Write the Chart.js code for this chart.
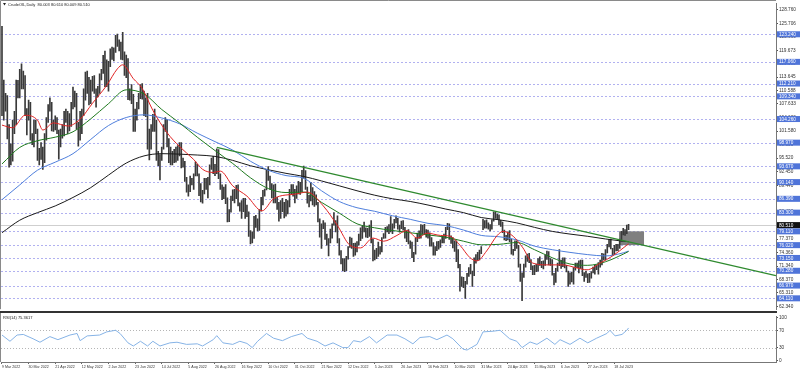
<!DOCTYPE html>
<html>
<head>
<meta charset="utf-8">
<script src="https://cdn.jsdelivr.net/npm/chart.js@4.4.0/dist/chart.umd.min.js"></script>
<style>
  html, body { margin: 0; padding: 0; background: #fff; }
  #wrap { position: relative; width: 800px; height: 372px; overflow: hidden; }
  canvas { position: absolute; left: 0; }
  #main { top: 0; }
  #rsi { top: 313px; }
</style>
</head>
<body>
<div id="wrap">
  <canvas id="main" width="800" height="313"></canvas>
  <canvas id="rsi" width="800" height="59"></canvas>
</div>
<script>
// ---- data ----
const dateLabels = ["9 Mar 2022", "30 Mar 2022", "21 Apr 2022", "12 May 2022", "2 Jun 2022", "23 Jun 2022",
  "14 Jul 2022", "5 Aug 2022", "26 Aug 2022", "16 Sep 2022", "10 Oct 2022", "31 Oct 2022", "21 Nov 2022",
  "12 Dec 2022", "5 Jan 2023", "26 Jan 2023", "16 Feb 2023", "10 Mar 2023", "31 Mar 2023", "24 Apr 2023",
  "15 May 2023", "6 Jun 2023", "27 Jun 2023", "18 Jul 2023"];
const labelStep = 15; // bars between date labels

// daily lows / highs, one per bar
const lows = [
  105, 104, 106, 99.8, 93.5, 94, 94.8, 101, 103, 109,
  109, 111, 111, 105, 100.7, 104, 99.5, 98.5, 98, 101,
  95, 94, 95.2, 93, 94.5, 99.5, 103.5, 106, 101.6, 101.5,
  101.8, 101, 95.3, 98, 100, 100.5, 103.5, 101, 101.6, 102.6,
  106.5, 107, 102, 98.2, 99.5, 101, 105, 108.5, 110, 107.4,
  107.7, 110.5, 110, 106.9, 109.2, 110, 113, 114.5, 111.5, 111.5,
  110.5, 116, 117.6, 117.3, 119.2, 120.5, 119.5, 117.6, 117.5, 114,
  113.5, 108.6, 108.5, 107.7, 101.5, 101.5, 104, 106.5, 108.8, 108.7,
  105, 104.8, 97.5, 95.1, 97.5, 101.5, 101.5, 95, 93.8, 90.6,
  95, 97.5, 101.5, 98, 94.5, 94, 94, 94.5, 94.6, 95,
  96, 93.3, 93.5, 90.3, 87.9, 87, 88, 89.5, 88.5, 91.5,
  91.5, 87.1, 85.7, 85.4, 87.5, 88.5, 86.6, 89.5, 93, 92,
  91.6, 92, 90.9, 88.5, 86.2, 86.4, 85.3, 81.2, 81.3, 83.4,
  86, 85.5, 86.4, 84.8, 83.6, 82, 83.5, 82, 82.4, 78,
  76.3, 76.5, 77.5, 80, 79.2, 79.3, 83.6, 85, 87, 88.4,
  90.5, 88.5, 86.6, 85.5, 85.5, 84, 81.4, 82, 83.5, 82.1,
  82.5, 83, 84.6, 87.5, 87, 85.5, 86.5, 87.5, 87.4, 88,
  91, 88.5, 85.4, 84.6, 85.9, 85, 84.7, 85, 81.2, 77.8,
  75.3, 79.7, 77.3, 76, 73.6, 76.5, 77.6, 80.5, 79, 76.5,
  73.8, 71.8, 70.3, 70.1, 70.3, 72.9, 75.5, 75.3, 73.5, 73.8,
  74.5, 76, 77, 77.5, 79, 77.8, 77.7, 78, 76.5, 72.5,
  72.7, 73, 73.5, 74, 74.5, 77.5, 77.6, 79, 78.6, 79,
  78.6, 79.8, 81, 79.6, 78.9, 79.7, 79.4, 77.6, 76.8, 76.3,
  75.3, 73.2, 72.3, 74, 76.8, 77.5, 77.6, 78.5, 78.5, 77.8,
  77.6, 75.8, 75.8, 73.8, 73.8, 74.8, 75.1, 75.5, 76.5, 76.5,
  77.5, 79.5, 77.3, 76.4, 75.4, 74.6, 72.3, 70.9, 65.7, 66.8,
  66.5, 64.1, 67.3, 69, 69.6, 66.8, 69.2, 72, 72.6, 72.7,
  74.1, 79.5, 79.8, 79.8, 79.6, 79.2, 79.6, 81.4, 82, 81.8,
  80.6, 80.2, 78.8, 77.2, 77, 77.2, 76.8, 74, 73.8, 74.8,
  75.3, 71.1, 67.9, 63.6, 68.8, 71.1, 72.4, 72.1, 70.5, 69.4,
  69.4, 70.1, 70.2, 71.5, 71, 70.7, 71.5, 72.8, 71.6, 71.5,
  69.3, 67.1, 67.7, 70.2, 71.4, 70.8, 71.2, 70.9, 70, 66.8,
  67.3, 67.8, 67.3, 70.4, 71, 69.8, 70.8, 69.2, 67.9, 68.8,
  67.6, 67.7, 68.6, 69.8, 69.5, 70.5, 69.5, 71.1, 71.6, 72.7,
  72.7, 74.3, 75.6, 75.2, 73.8, 73.9, 74.7, 74.8, 75.3, 76.9,
  78.3, 78.2, 78.6, 79.5
];
const highs = [
  125, 113, 110, 109.5, 103, 98.7, 104, 106, 113, 112.9,
  115.4, 116.6, 115, 114, 106.6, 108.5, 108, 101, 104, 104,
  102, 97.7, 99, 98, 101, 104.6, 107.5, 109, 108, 104,
  105, 104.6, 101.8, 102, 103, 106, 106.5, 106, 105.5, 108,
  111.4, 110.5, 110, 103.5, 106, 106.5, 111, 114.8, 115, 113.6,
  113, 113.8, 114, 111, 111.6, 114.4, 115.4, 118.5, 119.5, 117.5,
  117.2, 120, 120.4, 120.2, 123, 123.3, 122, 121.5, 123.7, 119.3,
  118.6, 117.8, 111, 112, 109.8, 106.5, 108, 110, 112, 112.2,
  110.5, 109, 110, 102, 103, 105.3, 106.5, 104, 97, 96.3,
  98, 103, 104.6, 104.2, 99.9, 98, 97, 97.5, 98, 98.3,
  99, 99, 95.5, 94.8, 91.2, 89.5, 91.5, 91, 92, 94.7,
  94.1, 92, 89.8, 88.3, 91, 91, 91.2, 94, 95.5, 95.9,
  94.1, 97.6, 97.4, 92, 89.5, 89, 89.6, 86.6, 84, 87,
  88.4, 88.5, 89.4, 89.5, 85.5, 86, 86.5, 86.5, 85, 83.5,
  79.3, 79, 82.5, 82.7, 81.9, 84, 86.7, 88.3, 88.6, 93,
  93.6, 91.5, 89.8, 89.5, 89.7, 86.7, 85.6, 86, 86.5, 85.6,
  86.3, 86, 88.5, 89.6, 89.6, 88.5, 89.3, 90.3, 90.1, 92.8,
  93.7, 92.7, 89, 87.2, 90.1, 88.9, 88, 87.3, 85.6, 81.9,
  80.8, 81.5, 81, 78.5, 77.5, 79.6, 80.8, 83.3, 81.5, 82.6,
  77.5, 74.8, 73, 73, 73.5, 75.7, 77.8, 77.6, 76.4, 76.5,
  76.8, 78.5, 79.9, 80.3, 81.2, 79.9, 79.8, 80.5, 81.5, 77.4,
  74.9, 75.3, 76.7, 75.7, 77.7, 78.6, 80, 80.2, 80.6, 82.4,
  80.8, 81.8, 82.6, 82, 80.5, 81.4, 81.5, 80, 79.2, 79.5,
  77, 76.7, 74.4, 77.6, 78.7, 79.2, 80.6, 80.5, 80.7, 79.5,
  79.4, 78.8, 77.7, 76.6, 75.7, 76.8, 76.9, 77.2, 78, 78.5,
  80, 80.9, 80.8, 78.1, 77.7, 77, 77, 75, 71.7, 68.9,
  68.8, 67.9, 69.7, 71, 71.7, 70.2, 73.2, 73.9, 74.4, 74.9,
  75.7, 81.8, 81.5, 81.7, 81, 80.6, 81.7, 83.5, 83.5, 83,
  82.8, 81.6, 81.2, 79.4, 78.2, 79, 79.3, 77.4, 75.1, 77,
  77, 76, 71.8, 69.8, 71.8, 73.6, 74, 74.2, 72.8, 71.4,
  71.5, 71.8, 73, 73.4, 72.4, 72.5, 73.8, 74.7, 74.6, 73,
  72.8, 69.7, 70.8, 72, 75, 72.7, 73.2, 73.2, 71.5, 70.2,
  69.8, 70, 71, 72, 72, 72.5, 72.7, 72.7, 69.9, 70.2,
  69.6, 69.7, 70.1, 71.1, 71.5, 71.6, 72.1, 72.7, 74.2, 74.1,
  75, 76.2, 77.3, 77.4, 75.3, 76, 76.2, 76.2, 77.4, 79.1,
  79.8, 79.5, 80.5, 80.7
];

// moving averages (bar index -> value)
const fastIdx = [0, 6, 13, 20, 23, 29, 37, 44, 51, 59, 65, 68, 74, 79, 85, 93, 100, 108, 113, 119, 123, 130,
  138, 146.5, 153, 166, 172, 181, 189, 196, 202, 209, 215, 222.5, 228, 234, 239.5, 247, 252.5, 258, 263.7,
  267.6, 273, 279, 282.3, 288, 293.5, 299, 307, 316, 324, 329.6, 337, 344, 352, 353];
const fastMa = [102.9, 102.3, 105.1, 104.0, 101.8, 103.4, 102.7, 104.2, 107.8, 111.8, 115.5, 116.4, 113.3, 111.1,
  106.2, 101.2, 98.1, 95.2, 93.0, 92.3, 92.6, 89.3, 87.0, 83.7, 86.4, 87.5, 87.9, 84.8, 80.4, 76.0, 75.4, 77.6,
  76.9, 78.2, 79.3, 77.6, 78.7, 78.2, 78.0, 76.0, 73.2, 72.5, 74.7, 78.2, 79.1, 78.0, 75.4, 72.0, 71.6, 71.6,
  70.9, 70.5, 72.0, 73.6, 76.0, 76.3];
const maIdx = [0, 10, 20, 30, 40, 50, 60, 70, 80, 90, 100, 110, 120, 130, 140, 150, 160, 170, 180, 190, 200,
  210, 220, 230, 240, 250, 260, 270, 280, 290, 300, 310, 320, 330, 340, 350, 353];
const midMa = [94.2, 97.9, 99.4, 100.2, 101.4, 104.3, 107.7, 110.8, 109.9, 106.4, 103.4, 100.2, 97.2, 94.3, 91.1,
  88.7, 87.8, 87.9, 85.6, 83.2, 80.8, 79.9, 79.3, 78.8, 78.3, 77.8, 76.9, 76.1, 76.2, 76.6, 75.0, 73.2, 71.8,
  71.5, 72.3, 74.0, 74.6];
const slowMa = [86.2, 89.5, 92.8, 94.6, 96.5, 99.7, 102.8, 104.6, 105.2, 104.5, 103.2, 101.1, 99.2, 97.3, 94.8,
  92.8, 91.6, 91.0, 88.2, 85.8, 84.4, 83.6, 82.6, 81.8, 80.9, 80.4, 79.4, 78.2, 77.9, 77.2, 75.8, 75.0, 74.4,
  73.9, 73.6, 74.3, 74.7];
const longMa = [78.8, 81.6, 83.3, 84.8, 86.7, 88.9, 91.7, 94.4, 96.0, 96.5, 96.4, 96.2, 95.9, 95.0, 93.8, 92.9,
  92.1, 91.4, 90.4, 89.3, 88.2, 87.2, 86.4, 85.8, 85.0, 84.1, 83.3, 82.2, 81.7, 81.0, 80.0, 79.1, 78.5, 78.0,
  77.4, 76.9, 76.8];

// trend line and box
const trendIdx = [121, 436];
const trendVal = [97.9, 69.2];
const boxIdx = [347.6, 361.7];
const boxVal = [76.02, 79.11];

// horizontal levels (blue dotted) and price labels
const levels = [123.24, 117.06, 112.21, 109.34, 104.26, 98.97, 93.67, 90.14, 86.39, 83.30, 79.11, 76.02,
  73.15, 70.28, 66.97, 64.11];
const lastPrice = 80.51;
const priceTicks = [128.760, 125.706, 122.690, 119.673, 116.660, 113.645, 110.588, 107.633, 104.600, 101.580,
  98.550, 95.520, 92.450, 89.440, 86.420, 83.400, 80.380, 77.370, 74.360, 71.340, 68.370, 65.310, 62.340];

// RSI(14)
const rsiIdx = [0, 4.5, 8.5, 12, 17.5, 21.4, 27, 31.5, 38.3, 42.3, 44, 48, 55, 59, 64, 66.5, 71, 74, 78, 82, 85,
  89, 94.6, 98.6, 104, 110, 113, 119, 121, 124.5, 130, 134, 138, 141, 144, 149, 153, 158, 163, 169, 172, 177.5,
  182, 186.5, 192, 195, 198, 202, 207, 211, 217, 222.5, 227, 231.5, 235.5, 241, 245, 250.7, 254, 259.7, 262,
  267.6, 271, 276.6, 280.6, 286, 290, 293, 297.5, 301.4, 307, 311.5, 314.4, 320, 325.6, 330, 335, 340.8, 342.5,
  345.4, 349.3, 352, 353];
const rsiVal = [59, 44.6, 59, 60.4, 50.4, 42.4, 55.4, 48.3, 59, 62.6, 46, 57, 59, 66.3, 70, 62.6, 40.9, 33.7,
  44.6, 33.7, 44.6, 33.7, 40.9, 42.4, 37.4, 38.7, 33.7, 48.3, 57.6, 40.9, 37.4, 44.6, 39.6, 30, 44.6, 62.6,
  51.7, 46, 55.4, 62.6, 51.7, 44.6, 33.7, 40.9, 30, 30, 46, 43, 55.4, 40.9, 59, 59, 50.4, 38.7, 53.3, 55.4,
  48.3, 59, 50.4, 26.5, 24.3, 37.4, 66.3, 67.8, 70, 50.4, 44.6, 30, 43, 37.4, 51.7, 37.4, 48.3, 37.4, 51.7,
  40.9, 51.7, 62.6, 70, 57, 60.4, 70, 75.4];
const rsiTicks = [0, 30, 70, 100];
const rsiLevels = [30, 70];

// axis ranges
const X_MIN = -0.56, X_MAX = 436.06;
const P_MIN = 61.68, P_MAX = 130.06;
const R_MIN = -3.3, R_MAX = 101.1;

Chart.defaults.font.family = "'Liberation Sans', Arial, sans-serif";
const AXIS_W = 24;

const pts = (xs, ys) => xs.map((x, i) => ({ x: x, y: ys[i] }));
const maLine = (xs, ys, color) => ({
  type: 'line', data: pts(xs, ys), borderColor: color, borderWidth: 1,
  pointRadius: 0, cubicInterpolationMode: 'monotone', order: 2
});

const mainDecor = {
  id: 'mainDecor',
  beforeDatasetsDraw(chart) {
    const { ctx, chartArea: a, scales: { x, y } } = chart;
    ctx.save();
    ctx.beginPath();
    ctx.rect(a.left, a.top, a.right - a.left, a.bottom - a.top);
    ctx.clip();
    ctx.lineWidth = 1;
    ctx.strokeStyle = 'rgba(100,100,225,0.5)';
    ctx.setLineDash([2, 2]);
    levels.forEach(v => {
      const py = Math.round(y.getPixelForValue(v)) + 0.5;
      ctx.beginPath(); ctx.moveTo(a.left, py); ctx.lineTo(a.right, py); ctx.stroke();
    });
    ctx.setLineDash([]);
    ctx.strokeStyle = '#cfcfcf';
    const by = Math.round(y.getPixelForValue(lastPrice)) + 0.5;
    ctx.beginPath(); ctx.moveTo(a.left, by); ctx.lineTo(a.right, by); ctx.stroke();
    const x0 = x.getPixelForValue(boxIdx[0]), x1 = x.getPixelForValue(boxIdx[1]);
    const y0 = y.getPixelForValue(boxVal[1]), y1 = y.getPixelForValue(boxVal[0]);
    ctx.fillStyle = '#7f7f7f';
    ctx.fillRect(x0, y0, x1 - x0, y1 - y0);
    ctx.restore();
  },
  afterDraw(chart) {
    const { ctx, chartArea: a, scales: { y } } = chart;
    ctx.save();
    // frame + panel separator
    ctx.strokeStyle = '#8a8a8a';
    ctx.lineWidth = 1;
    ctx.beginPath();
    ctx.moveTo(0.5, a.bottom); ctx.lineTo(0.5, 0.5); ctx.lineTo(a.right, 0.5);
    ctx.stroke();
    ctx.fillStyle = '#333';
    ctx.fillRect(0, 311, a.right + 1, 2);
    // price boxes on the axis
    ctx.font = "4.7px 'Liberation Sans', Arial";
    ctx.textBaseline = 'middle';
    const tag = (v, bg) => {
      const py = y.getPixelForValue(v);
      ctx.fillStyle = bg;
      ctx.fillRect(a.right + 1, py - 3, 800 - a.right - 1, 6);
      ctx.fillStyle = '#fff';
      ctx.fillText(v.toFixed(3), a.right + 3, py + 0.3);
    };
    levels.forEach(v => tag(v, '#4f74d9'));
    tag(lastPrice, '#111');
    // title
    ctx.fillStyle = '#222';
    ctx.beginPath(); ctx.moveTo(3, 3); ctx.lineTo(6, 3); ctx.lineTo(4.5, 5.5); ctx.closePath(); ctx.fill();
    ctx.font = "4px 'Liberation Sans', Arial";
    ctx.fillText('CrudeOIL,Daily  80.003 80.610 80.009 80.510', 8, 4.5);
    ctx.restore();
  }
};

new Chart(document.getElementById('main'), {
  type: 'bar',
  data: {
    datasets: [
      { type: 'line', data: pts(trendIdx, trendVal), borderColor: '#2f8a2f', borderWidth: 1.3, pointRadius: 0, order: 1 },
      maLine(fastIdx, fastMa, '#e02525'),
      maLine(maIdx, midMa, '#1f7a1f'),
      maLine(maIdx, slowMa, '#4f7fdc'),
      maLine(maIdx, longMa, '#1a1a1a'),
      {
        type: 'bar', data: lows.map((l, i) => ({ x: i, y: [l, highs[i]] })),
        backgroundColor: '#3a3a3a', barThickness: 1, grouped: false, order: 10
      }
    ]
  },
  options: {
    responsive: false, animation: false, events: [],
    layout: { padding: { left: 1, top: 2, right: 0, bottom: 1 } },
    plugins: { legend: { display: false }, tooltip: { enabled: false } },
    scales: {
      x: { type: 'linear', min: X_MIN, max: X_MAX, display: false, offset: false },
      y: {
        position: 'right', min: P_MIN, max: P_MAX,
        afterFit: s => { s.width = AXIS_W; },
        afterBuildTicks: s => { s.ticks = priceTicks.map(v => ({ value: v })); },
        ticks: { autoSkip: false, padding: 1, color: '#333', font: { size: 4.7 }, callback: v => v.toFixed(3) },
        grid: { drawOnChartArea: false, tickLength: 2, color: '#555' },
        border: { color: '#777' }
      }
    }
  },
  plugins: [mainDecor]
});

const rsiDecor = {
  id: 'rsiDecor',
  beforeDatasetsDraw(chart) {
    const { ctx, chartArea: a, scales: { y } } = chart;
    ctx.save();
    ctx.strokeStyle = '#b5b5b5';
    ctx.lineWidth = 1;
    ctx.setLineDash([1, 2]);
    rsiLevels.forEach(v => {
      const py = Math.round(y.getPixelForValue(v)) + 0.5;
      ctx.beginPath(); ctx.moveTo(a.left, py); ctx.lineTo(a.right, py); ctx.stroke();
    });
    ctx.restore();
  },
  afterDraw(chart) {
    const { ctx, chartArea: a } = chart;
    ctx.save();
    ctx.strokeStyle = '#8a8a8a';
    ctx.beginPath(); ctx.moveTo(0.5, 0); ctx.lineTo(0.5, a.bottom); ctx.stroke();
    ctx.fillStyle = '#222';
    ctx.font = "4px 'Liberation Sans', Arial";
    ctx.textBaseline = 'middle';
    ctx.fillText('RSI(14) 75.3617', 3, 4.5);
    ctx.restore();
  }
};

new Chart(document.getElementById('rsi'), {
  type: 'line',
  data: {
    datasets: [{ data: pts(rsiIdx, rsiVal), borderColor: '#86b3e6', borderWidth: 1, pointRadius: 0, tension: 0 }]
  },
  options: {
    responsive: false, animation: false, events: [],
    layout: { padding: { left: 1, top: 1, right: 0, bottom: 0 } },
    plugins: { legend: { display: false }, tooltip: { enabled: false } },
    scales: {
      x: {
        type: 'linear', min: X_MIN, max: X_MAX,
        afterFit: s => { s.height = 10; },
        afterBuildTicks: s => { s.ticks = dateLabels.map((_, i) => ({ value: i * labelStep })); },
        ticks: {
          autoSkip: false, maxRotation: 0, align: 'start', padding: 1, color: '#333', font: { size: 3.6 },
          callback: (v, i) => dateLabels[i]
        },
        grid: { drawOnChartArea: false, tickLength: 2, color: '#666' },
        border: { color: '#777' }
      },
      y: {
        position: 'right', min: R_MIN, max: R_MAX,
        afterFit: s => { s.width = AXIS_W; },
        afterBuildTicks: s => { s.ticks = rsiTicks.map(v => ({ value: v })); },
        ticks: { autoSkip: false, padding: 1, color: '#333', font: { size: 4.7 } },
        grid: { drawOnChartArea: false, tickLength: 2, color: '#555' },
        border: { color: '#777' }
      }
    }
  },
  plugins: [rsiDecor]
});
</script>
</body>
</html>
